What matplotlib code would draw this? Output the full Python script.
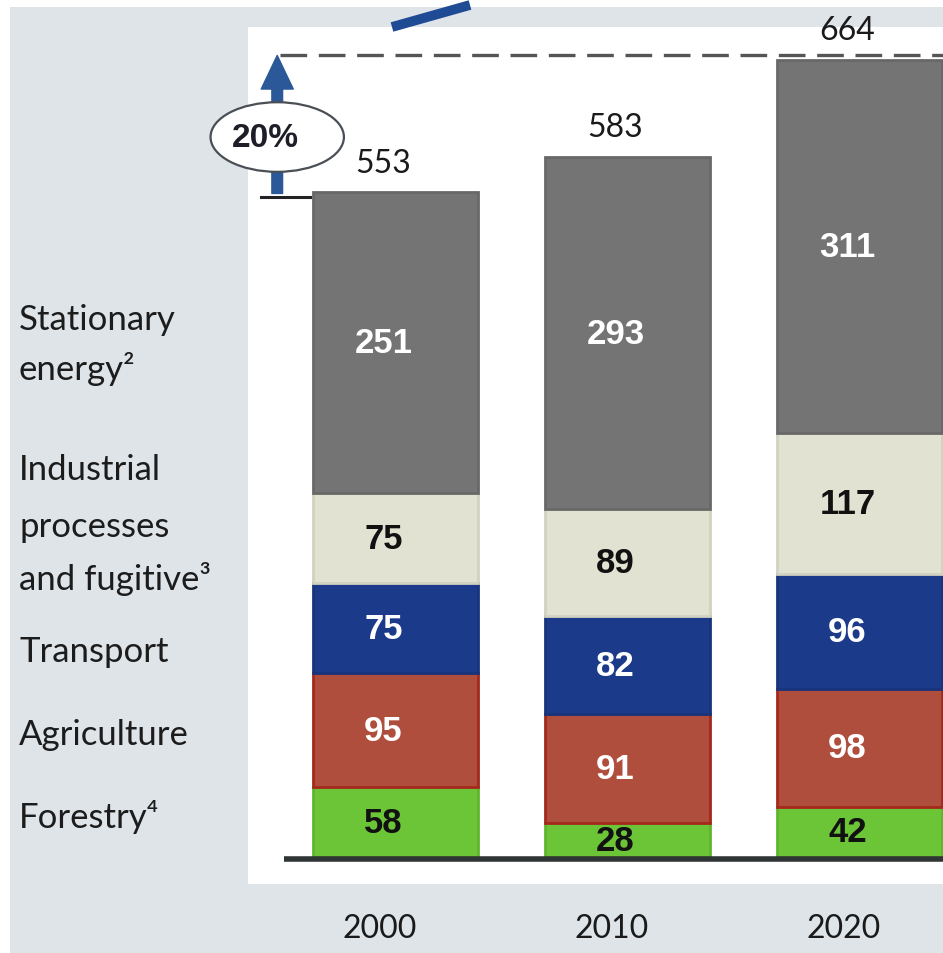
import matplotlib.pyplot as plt
import matplotlib.transforms as mtransforms
from matplotlib.patches import Rectangle, Ellipse
from matplotlib.lines import Line2D

# emissions by sector, stacked bottom to top
years = ['2000', '2010', '2020']
forestry = [58, 28, 42]
agriculture = [95, 91, 98]
transport = [75, 82, 96]
industrial = [75, 89, 117]
stationary = [251, 293, 311]
totals = [553, 583, 664]
growth = '20%'

sector_names = ['Forestry⁴', 'Agriculture', 'Transport',
                'Industrial\nprocesses\nand fugitive³', 'Stationary\nenergy²']
fills = ['#6cc536', '#b04e3e', '#1b3a8a', '#e2e2d2', '#747474']
edges = ['#5fb52e', '#a3291d', '#18347c', '#d2d2c0', '#686868']
value_colors = ['#111111', 'white', 'white', '#111111', 'white']

plt.rcParams['font.family'] = ['Lato', 'DejaVu Sans']

W, H = 943, 954
fig = plt.figure(figsize=(W / 100, H / 100), dpi=100, facecolor='white')
fig.patches.append(Rectangle((10 / W, 0), 1, 1 - 8 / H, transform=fig.transFigure,
                             facecolor='#dfe4e8', edgecolor='none', zorder=-10))

# white chart panel
ax = fig.add_axes([248 / W, (H - 885) / H, (W - 248) / W, (885 - 28) / H])
ax.set_facecolor('white')
for s in ax.spines.values():
    s.set_visible(False)
ax.set_xlim(-0.636, 2.36)
ax.set_ylim(-22.5, 691.7)
ax.set_yticks([])

x = list(range(len(years)))
layers = [forestry, agriculture, transport, industrial, stationary]
bottom = [0] * len(years)
shift = mtransforms.ScaledTranslation(-12 / 100, 0, fig.dpi_scale_trans)
for vals, fc, ec, tc in zip(layers, fills, edges, value_colors):
    ax.bar(x, vals, bottom=bottom, width=0.71, color=fc, edgecolor=ec, linewidth=2, zorder=2)
    for xi, b, v in zip(x, bottom, vals):
        ax.text(xi, b + v / 2, str(v), ha='center', va='center', fontsize=25,
                fontweight='bold', color=tc, family='Liberation Sans',
                transform=ax.transData + shift, zorder=4)
    bottom = [b + v for b, v in zip(bottom, vals)]

for xi, t in zip(x, totals):
    ax.annotate(str(t), (xi, t), xytext=(-9, 22), textcoords='offset points',
                ha='center', va='center', fontsize=23, color='#1a1a1a')

# baseline
ax.plot([-0.48, 2.36], [-2, -2], color='#2f3535', lw=4, solid_capstyle='butt', zorder=3, clip_on=False)

# growth marker between first and last totals
ax.plot([-0.5, 2.36], [totals[-1] + 4, totals[-1] + 4], color='#555555', lw=2.4,
        dashes=(8, 3.5), zorder=3, clip_on=False)
ax.plot([-0.58, -0.37], [totals[0] - 3, totals[0] - 3], color='#222222', lw=2.2, zorder=3, clip_on=False)
ax.annotate('', xy=(-0.51, totals[-1] + 4), xytext=(-0.51, totals[0]),
            arrowprops=dict(arrowstyle='simple,head_width=1.05,head_length=1.1,tail_width=0.35',
                            mutation_scale=22, color='#2b5898', shrinkA=0, shrinkB=0),
            zorder=3, annotation_clip=False)
ax.add_patch(Ellipse((-0.51, 600), 0.575, 58, facecolor='white', edgecolor='#4a4f55',
                     lw=1.6, zorder=5, clip_on=False))
ax.text(-0.56, 600, growth, ha='center', va='center', fontsize=24, fontweight='bold',
        color='#1e1e28', family='Liberation Sans', zorder=6)

# year labels below the panel
ax.set_xticks(x)
ax.set_xticklabels(years, fontsize=23, color='#1a1a1a')
ax.tick_params(axis='x', length=0, pad=21)
for lab in ax.get_xticklabels():
    lab.set_transform(lab.get_transform() + mtransforms.ScaledTranslation(-16 / 100, 0, fig.dpi_scale_trans))

# sector names on the left
label_baselines = [[828], [745], [662], [480, 537, 590], [330, 380]]
for name, ys in zip(sector_names, label_baselines):
    for line, yb in zip(name.split('\n'), ys):
        fig.text(19 / W, 1 - yb / H, line, ha='left', va='baseline', fontsize=25, color='#1c1c1c')

# piece of the trend line running off the top
fig.add_artist(Line2D([392 / W, 470 / W], [1 - 28 / H, 1 - 6 / H], transform=fig.transFigure,
                      color='#1f4a94', lw=7, solid_capstyle='butt'))

fig.savefig('out.png', dpi=100)
